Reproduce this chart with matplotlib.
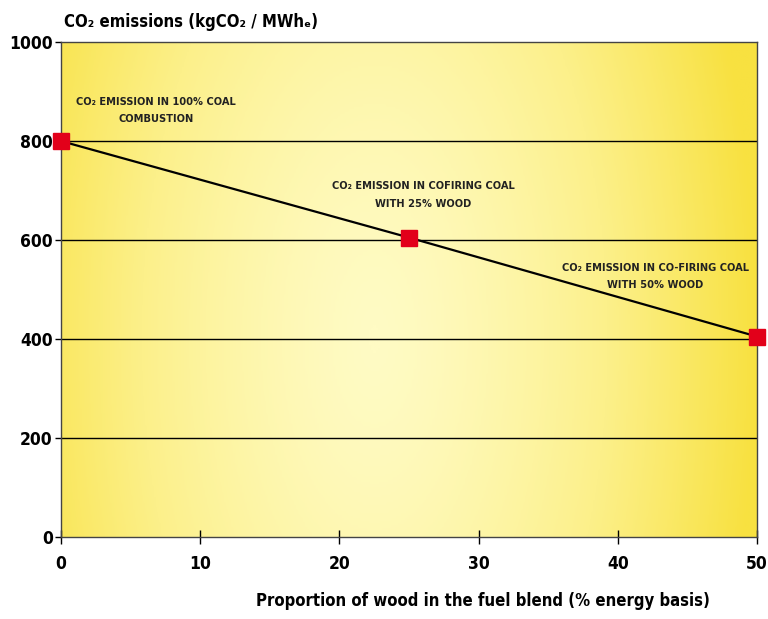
import numpy as np
import matplotlib
matplotlib.use('Agg')
from matplotlib import pyplot as plt
from matplotlib.colors import LinearSegmentedColormap

# data
wood_share = [0, 25, 50]
co2 = [800, 605, 405]
x_ticks = [0, 10, 20, 30, 40, 50]
y_ticks = [0, 200, 400, 600, 800, 1000]
notes = ['CO₂ EMISSION IN 100% COAL\nCOMBUSTION',
         'CO₂ EMISSION IN COFIRING COAL\nWITH 25% WOOD',
         'CO₂ EMISSION IN CO-FIRING COAL\nWITH 50% WOOD']
note_pos = [(6.8, 862), (26.0, 691), (42.7, 527)]

fam = ['DejaVu Sans']
plt.rcParams['font.family'] = fam
plt.rcParams['font.stretch'] = 'condensed'

fig = plt.figure(figsize=(7.68, 6.19), dpi=100)
ax = fig.add_axes([0.0794, 0.1325, 0.9063, 0.7995])

# yellow background, pale in the middle
gx = np.linspace(0, 1, 300)
gy = np.linspace(0, 1, 200)
X, Y = np.meshgrid(gx, gy)
d = np.sqrt(((X - 0.45) / 0.55) ** 2 + ((Y - 0.4) / 1.6) ** 2)
d = np.clip(d, 0, 1) ** 1.4
cmap = LinearSegmentedColormap.from_list('yel', ['#fffbc4', '#fcf08a', '#f8e140'])
ax.imshow(d, extent=[0, 50, 0, 1000], aspect='auto', cmap=cmap, origin='lower',
          vmin=0, vmax=1, zorder=0)

for yv in y_ticks[1:-1]:
    ax.axhline(yv, color='black', lw=1.0, zorder=1)

ax.plot(wood_share, co2, color='black', lw=1.6, zorder=2)
ax.plot(wood_share, co2, ls='none', marker='s', ms=12, color='#e2001a', zorder=3,
        clip_on=False)

for txt, (px, py) in zip(notes, note_pos):
    ax.text(px, py, txt, ha='center', va='center', fontsize=7.9, fontweight='bold',
            linespacing=1.9, color='#222222')

ax.set_xlim(0, 50)
ax.set_ylim(0, 1000)
ax.set_xticks(x_ticks)
ax.set_yticks(y_ticks)
ax.tick_params(axis='x', direction='inout', length=10, width=1, labelsize=12.5, pad=8)
ax.tick_params(axis='y', direction='out', length=4, width=1, labelsize=12.5, pad=2)
for lab in ax.get_xticklabels() + ax.get_yticklabels():
    lab.set_fontweight('bold')
for s in ax.spines.values():
    s.set_color('#444444')
    s.set_linewidth(1.0)

ax.set_xlabel('Proportion of wood in the fuel blend (% energy basis)', fontsize=12,
              fontweight='bold', labelpad=14, x=0.606)
fig.text(0.083, 0.965, 'CO₂ emissions (kgCO₂ / MWhₑ)', fontsize=12, fontweight='bold',
         ha='left', va='center')

fig.savefig('out.png', dpi=100)
